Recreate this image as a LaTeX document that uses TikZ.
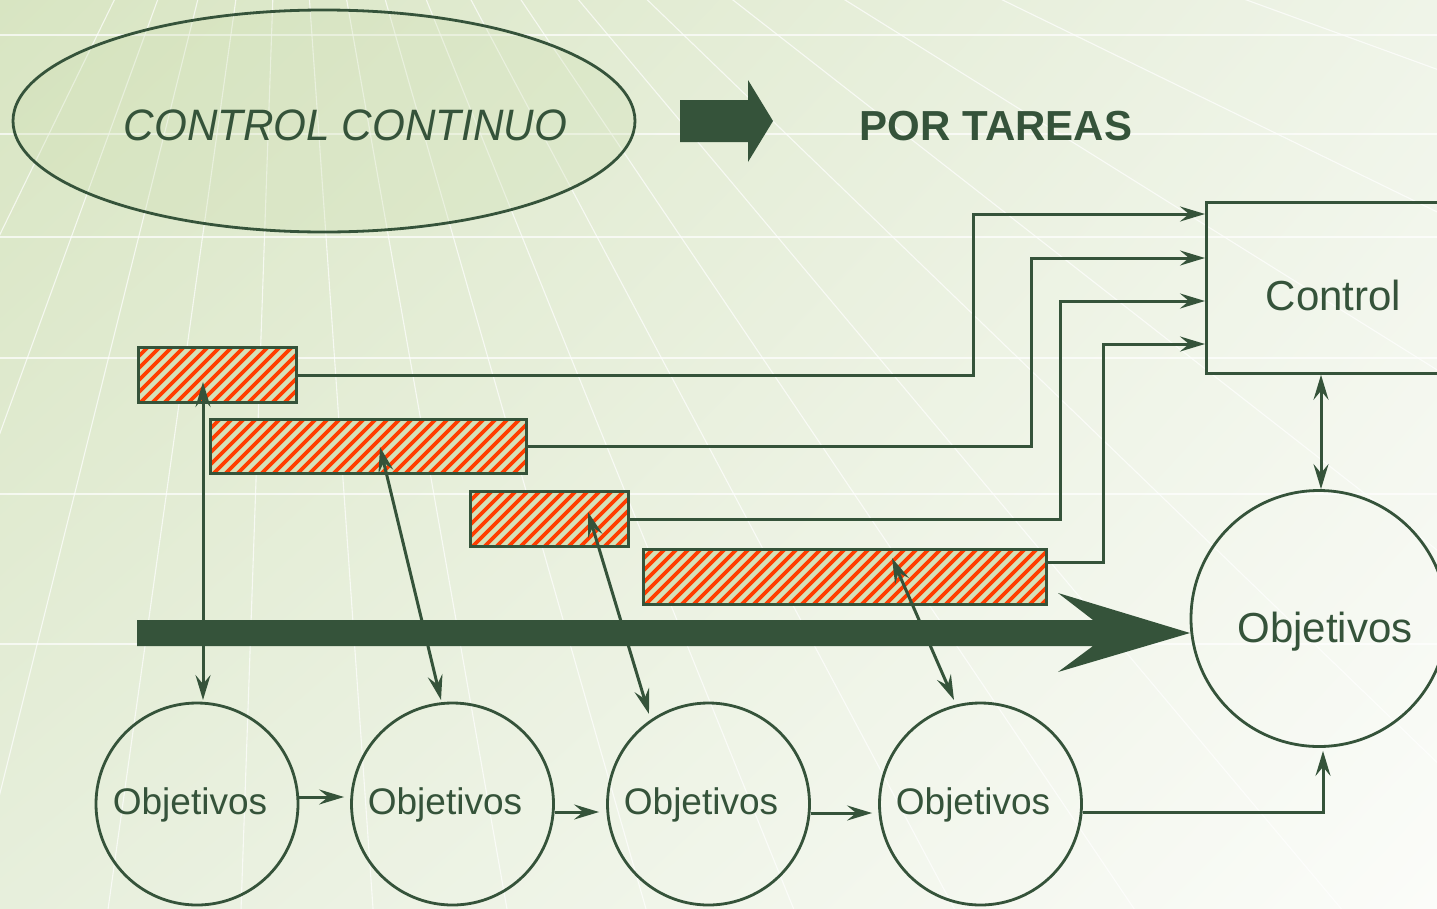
\documentclass[tikz,border=0pt]{standalone}
\usepackage{fontspec}
\setmainfont{Liberation Sans}
\usetikzlibrary{arrows.meta,shapes.geometric,calc,shadings}
\definecolor{dg}{HTML}{35533A}
\definecolor{hred}{HTML}{FF3D00}
\definecolor{hpale}{HTML}{D5E1B9}
\definecolor{bgA}{HTML}{D8E5C2}
\definecolor{bgB}{HTML}{EFF4E8}
\definecolor{bgC}{HTML}{E7EFDC}
\definecolor{bgD}{HTML}{FBFCF9}
\definecolor{ellfill}{HTML}{CFDFB4}
\tikzset{
  >={Stealth[length=25pt,width=15pt,inset=9pt]},
  conn/.style={draw=dg, line width=3pt},
  circ/.style={circle, draw=dg, line width=2.8pt, inner sep=0pt, minimum size=202pt},
  lbl/.style={text=dg, anchor=base, inner sep=0pt},
  barbox/.style={draw=dg, line width=3pt, inner sep=0pt, anchor=north west},
  stripe/.style={draw=hred, line width=3.6pt},
  gridline/.style={draw=white, line width=1.1pt, opacity=0.7},
  smalltxt/.style={lbl, font=\fontsize{37}{40}\selectfont},
  bigtxt/.style={lbl, font=\fontsize{42}{46}\selectfont}
}
\newcommand\hatchbox[5]{%
  \fill[hpale] (#2,#3) rectangle (#4,#5);
  \begin{scope}
    \clip (#2,#3) rectangle (#4,#5);
    \pgfmathsetmacro\hhh{#5-#3}
    \pgfmathsetmacro\hsa{#2-\hhh-12}
    \pgfmathsetmacro\hsb{#2-\hhh}
    \foreach \s in {\hsa,\hsb,...,#4} \draw[stripe] (\s-5,#5+5) -- ++(\hhh+10,-\hhh-10);
  \end{scope}
  \node[barbox, minimum width={(#4-#2)*1pt}, minimum height={(#5-#3)*1pt}] (#1) at (#2,#3) {};
}
\begin{document}
\begin{tikzpicture}[x=1pt,y=-1pt]
\useasboundingbox (0,0) rectangle (1437,908);
\clip (0,0) rectangle (1437,908);
% background
\shade[upper left=bgA, upper right=bgB, lower left=bgC, lower right=bgD] (0,0) rectangle (1437,908);
\foreach \y in {35,134,237,358,494,644} \draw[gridline] (0,\y) -- (1437,\y);
\coordinate (vp) at (285,-350);
\foreach \a in {-26,-20,...,76} \draw[gridline] (vp) -- ++({2200*sin(\a)},{2200*cos(\a)});
% title row
\node[ellipse, draw=dg, line width=2.8pt, fill=ellfill, fill opacity=0.3, minimum width=622pt, minimum height=222pt, inner sep=0pt] (ell) at (324,121) {};
\node[lbl, font=\fontsize{44}{48}\selectfont\itshape, xscale=0.96] (cc) at (345.5,140) {CONTROL CONTINUO};
\fill[dg] (680,100) -- (748,100) -- (748,80) -- (773,121) -- (748,162) -- (748,142) -- (680,142) -- cycle;
\node[lbl, font=\fontsize{42}{46}\selectfont\bfseries] (pt) at (996,140) {POR TAREAS};
% control box
\node[draw=dg, line width=2.8pt, anchor=north west, minimum width=262pt, minimum height=171pt, inner sep=0pt] (ctrl) at (1205,201) {};
\node[bigtxt] (ctrltxt) at (1333.5,310) {Control};
% big arrow
\fill[dg] (137,620) -- (1093,620) -- (1058,593) -- (1190,633) -- (1058,672) -- (1093,646) -- (137,646) -- cycle;
% bars
\hatchbox{b1}{137}{346}{295}{401}
\hatchbox{b2}{209}{418}{525}{472}
\hatchbox{b3}{469}{490}{627}{545}
\hatchbox{b4}{642}{548}{1045}{603}
% circles
\node[circ] (o1) at (197,804) {};
\node[circ] (o2) at (452.5,804) {};
\node[circ] (o3) at (708.5,804) {};
\node[circ] (o4) at (980.5,804) {};
\node[smalltxt] (t1) at (190,814) {Objetivos};
\node[smalltxt] (t2) at (445,814) {Objetivos};
\node[smalltxt] (t3) at (701,814) {Objetivos};
\node[smalltxt] (t4) at (973,814) {Objetivos};
\node[circ, minimum size=256pt] (bigc) at (1319,618.5) {};
\node[bigtxt] (bigt) at (1325,642) {Objetivos};
% connectors bars -> control
\coordinate (k1) at (973,214);
\coordinate (k2) at (1031,258);
\coordinate (k3) at (1060,301);
\coordinate (k4) at (1103,344);
\draw[conn,->] (b1.east) -| (k1) -- (ctrl.west |- k1);
\draw[conn,->] (b2.east) -| (k2) -- (ctrl.west |- k2);
\draw[conn,->] (b3.east) -| (k3) -- (ctrl.west |- k3);
\draw[conn,->] ([yshift=14.5pt]b4.east) -| (k4) -- (ctrl.west |- k4);
\draw[conn,<->] ([xshift=2pt]bigc.north |- ctrl.south) -- ([xshift=2pt]bigc.north);
% bars <-> circles
\coordinate (a1t) at (203,382);
\coordinate (a1b) at (203,700);
\coordinate (a2t) at (380,447);
\coordinate (a2b) at (441,700);
\coordinate (a3t) at (588,512);
\coordinate (a3b) at (649,714);
\coordinate (a4t) at (892,558);
\coordinate (a4b) at (954,700);
\draw[conn,<->] (a1t) -- (a1b);
\draw[conn,<->] (a2t) -- (a2b);
\draw[conn,<->] (a3t) -- (a3b);
\draw[conn,<->] (a4t) -- (a4b);
% circle chain
\draw[conn,->] ([yshift=7pt]o1.east) -- ([xshift=-6pt,yshift=7pt]o2.west);
\draw[conn,->] ([yshift=-8pt]o2.east) -- ([xshift=-7pt,yshift=-8pt]o3.west);
\draw[conn,->] ([yshift=-9pt]o3.east) -- ([xshift=-6pt,yshift=-9pt]o4.west);
\draw[conn,->] ([yshift=-8pt]o4.east) -| ([xshift=4pt,yshift=-3pt]bigc.south);
\end{tikzpicture}
\end{document}
